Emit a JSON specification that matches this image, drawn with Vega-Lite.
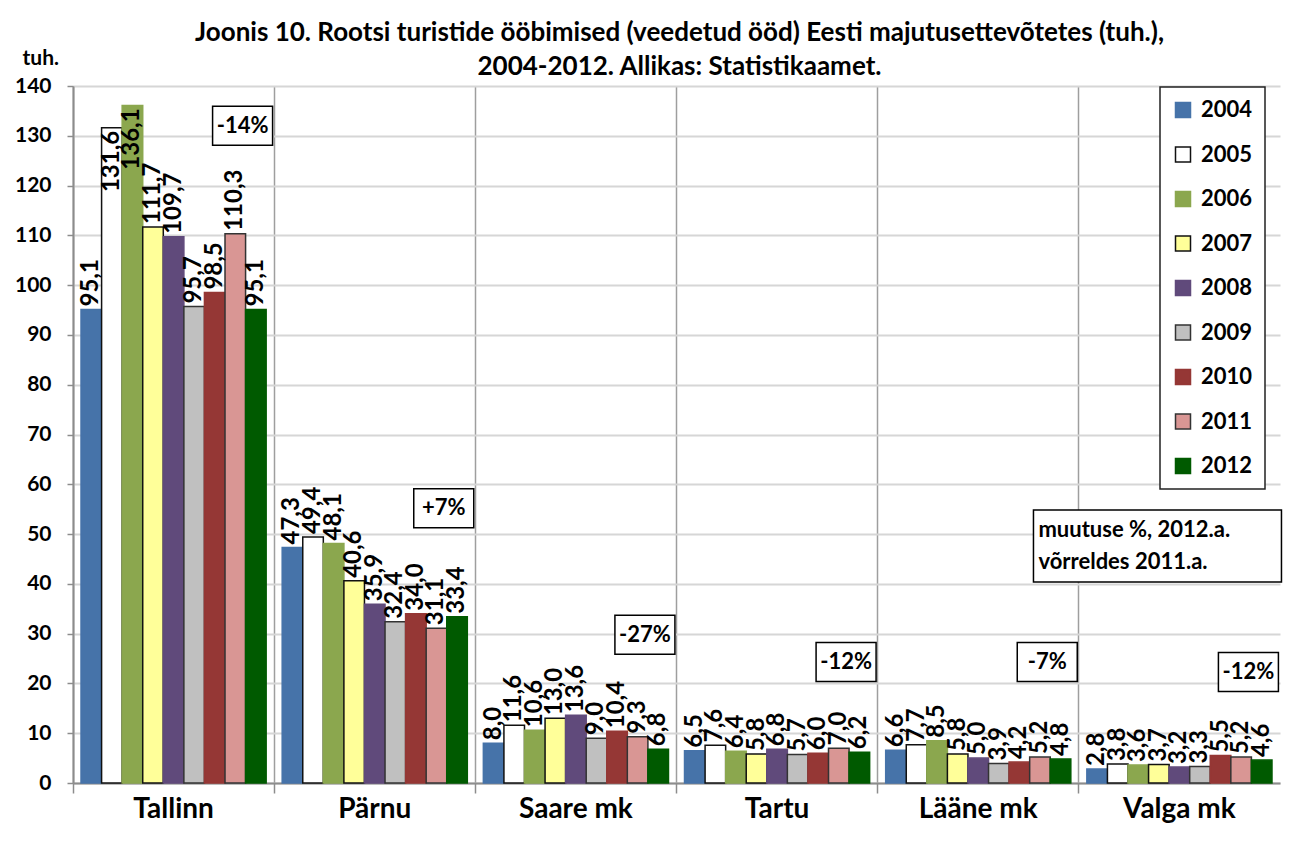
{
  "$schema": "https://vega.github.io/schema/vega-lite/v6.json",
  "autosize": "none",
  "width": 1207,
  "height": 697,
  "padding": {"left": 73, "top": 86, "right": 9, "bottom": 58},
  "background": "white",
  "title": {
    "text": ["Joonis 10. Rootsi turistide ööbimised (veedetud ööd) Eesti majutusettevõtetes (tuh.),", "2004-2012. Allikas: Statistikaamet."],
    "anchor": "middle",
    "frame": "group",
    "font": "Lato",
    "fontSize": 26,
    "fontWeight": "bold",
    "color": "black",
    "lineHeight": 34,
    "offset": -33,
    "dx": 3
  },
  "datasets": {
    "bars": [
      {"region": "Tallinn", "year": "2004", "value": 95.1},
      {"region": "Tallinn", "year": "2005", "value": 131.6},
      {"region": "Tallinn", "year": "2006", "value": 136.1},
      {"region": "Tallinn", "year": "2007", "value": 111.7},
      {"region": "Tallinn", "year": "2008", "value": 109.7},
      {"region": "Tallinn", "year": "2009", "value": 95.7},
      {"region": "Tallinn", "year": "2010", "value": 98.5},
      {"region": "Tallinn", "year": "2011", "value": 110.3},
      {"region": "Tallinn", "year": "2012", "value": 95.1},
      {"region": "Pärnu", "year": "2004", "value": 47.3},
      {"region": "Pärnu", "year": "2005", "value": 49.4},
      {"region": "Pärnu", "year": "2006", "value": 48.1},
      {"region": "Pärnu", "year": "2007", "value": 40.6},
      {"region": "Pärnu", "year": "2008", "value": 35.9},
      {"region": "Pärnu", "year": "2009", "value": 32.4},
      {"region": "Pärnu", "year": "2010", "value": 34.0},
      {"region": "Pärnu", "year": "2011", "value": 31.1},
      {"region": "Pärnu", "year": "2012", "value": 33.4},
      {"region": "Saare mk", "year": "2004", "value": 8.0},
      {"region": "Saare mk", "year": "2005", "value": 11.6},
      {"region": "Saare mk", "year": "2006", "value": 10.6},
      {"region": "Saare mk", "year": "2007", "value": 13.0},
      {"region": "Saare mk", "year": "2008", "value": 13.6},
      {"region": "Saare mk", "year": "2009", "value": 9.0},
      {"region": "Saare mk", "year": "2010", "value": 10.4},
      {"region": "Saare mk", "year": "2011", "value": 9.3},
      {"region": "Saare mk", "year": "2012", "value": 6.8},
      {"region": "Tartu", "year": "2004", "value": 6.5},
      {"region": "Tartu", "year": "2005", "value": 7.6},
      {"region": "Tartu", "year": "2006", "value": 6.4},
      {"region": "Tartu", "year": "2007", "value": 5.8},
      {"region": "Tartu", "year": "2008", "value": 6.8},
      {"region": "Tartu", "year": "2009", "value": 5.7},
      {"region": "Tartu", "year": "2010", "value": 6.0},
      {"region": "Tartu", "year": "2011", "value": 7.0},
      {"region": "Tartu", "year": "2012", "value": 6.2},
      {"region": "Lääne mk", "year": "2004", "value": 6.6},
      {"region": "Lääne mk", "year": "2005", "value": 7.7},
      {"region": "Lääne mk", "year": "2006", "value": 8.5},
      {"region": "Lääne mk", "year": "2007", "value": 5.8},
      {"region": "Lääne mk", "year": "2008", "value": 5.0},
      {"region": "Lääne mk", "year": "2009", "value": 3.9},
      {"region": "Lääne mk", "year": "2010", "value": 4.2},
      {"region": "Lääne mk", "year": "2011", "value": 5.2},
      {"region": "Lääne mk", "year": "2012", "value": 4.8},
      {"region": "Valga mk", "year": "2004", "value": 2.8},
      {"region": "Valga mk", "year": "2005", "value": 3.8},
      {"region": "Valga mk", "year": "2006", "value": 3.6},
      {"region": "Valga mk", "year": "2007", "value": 3.7},
      {"region": "Valga mk", "year": "2008", "value": 3.2},
      {"region": "Valga mk", "year": "2009", "value": 3.3},
      {"region": "Valga mk", "year": "2010", "value": 5.5},
      {"region": "Valga mk", "year": "2011", "value": 5.2},
      {"region": "Valga mk", "year": "2012", "value": 4.6}
    ],
    "changes": [
      {"region": "Tallinn", "label": "-14%", "level": 132.0},
      {"region": "Pärnu", "label": "+7%", "level": 55.2},
      {"region": "Saare mk", "label": "-27%", "level": 29.8},
      {"region": "Tartu", "label": "-12%", "level": 24.3},
      {"region": "Lääne mk", "label": "-7%", "level": 24.3},
      {"region": "Valga mk", "label": "-12%", "level": 22.3}
    ],
    "note": [
      {"region": "Valga mk", "label": "muutuse %, 2012.a.\nvõrreldes 2011.a.", "level": 47.6}
    ]
  },
  "layer": [
    {
      "data": {"name": "bars"},
      "mark": {"type": "bar", "strokeWidth": 1.5},
      "encoding": {
        "x": {"field": "region", "type": "nominal"},
        "xOffset": {"field": "year", "type": "nominal", "scale": {"paddingInner": 0, "paddingOuter": 0.39}},
        "y": {"field": "value", "type": "quantitative"},
        "fill": {
          "field": "year",
          "type": "nominal",
          "scale": {
            "domain": ["2004", "2005", "2006", "2007", "2008", "2009", "2010", "2011", "2012"],
            "range": ["#4673A9", "#FFFFFF", "#8BA74E", "#FFFF99", "#604A7B", "#C0C0C0", "#953735", "#D99694", "#005A00"]
          },
          "legend": {"title": null}
        },
        "stroke": {
          "field": "year",
          "type": "nominal",
          "scale": {
            "domain": ["2004", "2005", "2006", "2007", "2008", "2009", "2010", "2011", "2012"],
            "range": ["#4673A9", "#111111", "#8BA74E", "#111111", "#604A7B", "#333333", "#953735", "#333333", "#005A00"]
          },
          "legend": {"title": null}
        }
      }
    },
    {
      "data": {"name": "bars"},
      "transform": [{"filter": "datum.value <= 125"}],
      "mark": {"type": "text", "angle": 270, "align": "left", "baseline": "middle", "dx": 3, "fontSize": 24, "fontWeight": "bold", "font": "Lato", "color": "black"},
      "encoding": {
        "x": {"field": "region", "type": "nominal"},
        "xOffset": {"field": "year", "type": "nominal"},
        "y": {"field": "value", "type": "quantitative"},
        "text": {"field": "value", "type": "quantitative", "format": ".1f"}
      }
    },
    {
      "data": {"name": "bars"},
      "transform": [{"filter": "datum.value > 125"}],
      "mark": {"type": "text", "angle": 270, "align": "right", "baseline": "middle", "dx": -3, "fontSize": 24, "fontWeight": "bold", "font": "Lato", "color": "black"},
      "encoding": {
        "x": {"field": "region", "type": "nominal"},
        "xOffset": {"field": "year", "type": "nominal"},
        "y": {"field": "value", "type": "quantitative"},
        "text": {"field": "value", "type": "quantitative", "format": ".1f"}
      }
    },
    {
      "data": {"name": "changes"},
      "mark": {"type": "point", "shape": "M1.3,-0.65H3.3V0.65H1.3Z", "size": 3600, "filled": true, "fill": "white", "stroke": "black", "strokeWidth": 1.5, "opacity": 1},
      "encoding": {
        "x": {"field": "region", "type": "nominal"},
        "y": {"field": "level", "type": "quantitative"}
      }
    },
    {
      "data": {"name": "changes"},
      "mark": {"type": "text", "dx": 69, "fontSize": 22, "fontWeight": "bold", "font": "Lato", "color": "black", "baseline": "middle", "align": "center"},
      "encoding": {
        "x": {"field": "region", "type": "nominal"},
        "y": {"field": "level", "type": "quantitative"},
        "text": {"field": "label", "type": "nominal"}
      }
    },
    {
      "data": {"name": "note"},
      "mark": {"type": "point", "shape": "M-1.177,-0.29H0.823V0.29H-1.177Z", "size": 61504, "filled": true, "fill": "white", "stroke": "black", "strokeWidth": 1.5, "opacity": 1},
      "encoding": {
        "x": {"field": "region", "type": "nominal"},
        "y": {"field": "level", "type": "quantitative"}
      }
    },
    {
      "data": {"name": "note"},
      "mark": {"type": "text", "dx": -141, "dy": -16, "fontSize": 22, "fontWeight": "bold", "font": "Lato", "color": "black", "baseline": "middle", "align": "left", "lineBreak": "\n", "lineHeight": 32},
      "encoding": {
        "x": {"field": "region", "type": "nominal"},
        "y": {"field": "level", "type": "quantitative"},
        "text": {"field": "label", "type": "nominal"}
      }
    }
  ],
  "encoding": {
    "x": {
      "field": "region",
      "type": "nominal",
      "scale": {"domain": ["Tallinn", "Pärnu", "Saare mk", "Tartu", "Lääne mk", "Valga mk"], "paddingInner": 0, "paddingOuter": 0},
      "axis": {
        "title": null,
        "labelAngle": 0,
        "bandPosition": 0,
        "grid": true,
        "gridColor": "#9E9E9E",
        "gridWidth": 1.5,
        "domainColor": "#8C8C8C",
        "domainWidth": 2,
        "tickColor": "#8C8C8C",
        "tickWidth": 1.5,
        "tickSize": 10,
        "labelFont": "Lato",
        "labelFontSize": 28,
        "labelFontWeight": "bold",
        "labelColor": "black",
        "labelPadding": 2
      }
    },
    "y": {
      "type": "quantitative",
      "scale": {"domain": [0, 140], "nice": false, "zero": true},
      "axis": {
        "title": "tuh.",
        "titleAngle": 0,
        "titleAlign": "left",
        "titleBaseline": "middle",
        "titleX": -51,
        "titleY": -28,
        "titleFont": "Lato",
        "titleFontSize": 21,
        "titleFontWeight": "bold",
        "titleColor": "black",
        "values": [0, 10, 20, 30, 40, 50, 60, 70, 80, 90, 100, 110, 120, 130, 140],
        "grid": true,
        "gridColor": "#D6D6D6",
        "gridWidth": 2,
        "domainColor": "#8C8C8C",
        "domainWidth": 2,
        "tickColor": "#8C8C8C",
        "tickWidth": 1.5,
        "tickSize": 6,
        "labelFont": "Lato",
        "labelFontSize": 21,
        "labelFontWeight": "bold",
        "labelColor": "black",
        "labelPadding": 16
      }
    }
  },
  "config": {
    "font": "Lato",
    "view": {"stroke": null},
    "locale": {
      "number": {"decimal": ",", "thousands": " ", "grouping": [3], "currency": ["", " €"]}
    },
    "legend": {
      "orient": "none",
      "legendX": 1087,
      "legendY": 1,
      "direction": "vertical",
      "fillColor": "white",
      "strokeColor": "#222222",
      "strokeWidth": 1.5,
      "padding": 12,
      "symbolType": "square",
      "symbolSize": 225,
      "symbolStrokeWidth": 1.5,
      "labelFont": "Lato",
      "labelFontSize": 22,
      "labelFontWeight": "bold",
      "labelColor": "black",
      "labelOffset": 7,
      "rowPadding": 22.5
    }
  }
}
